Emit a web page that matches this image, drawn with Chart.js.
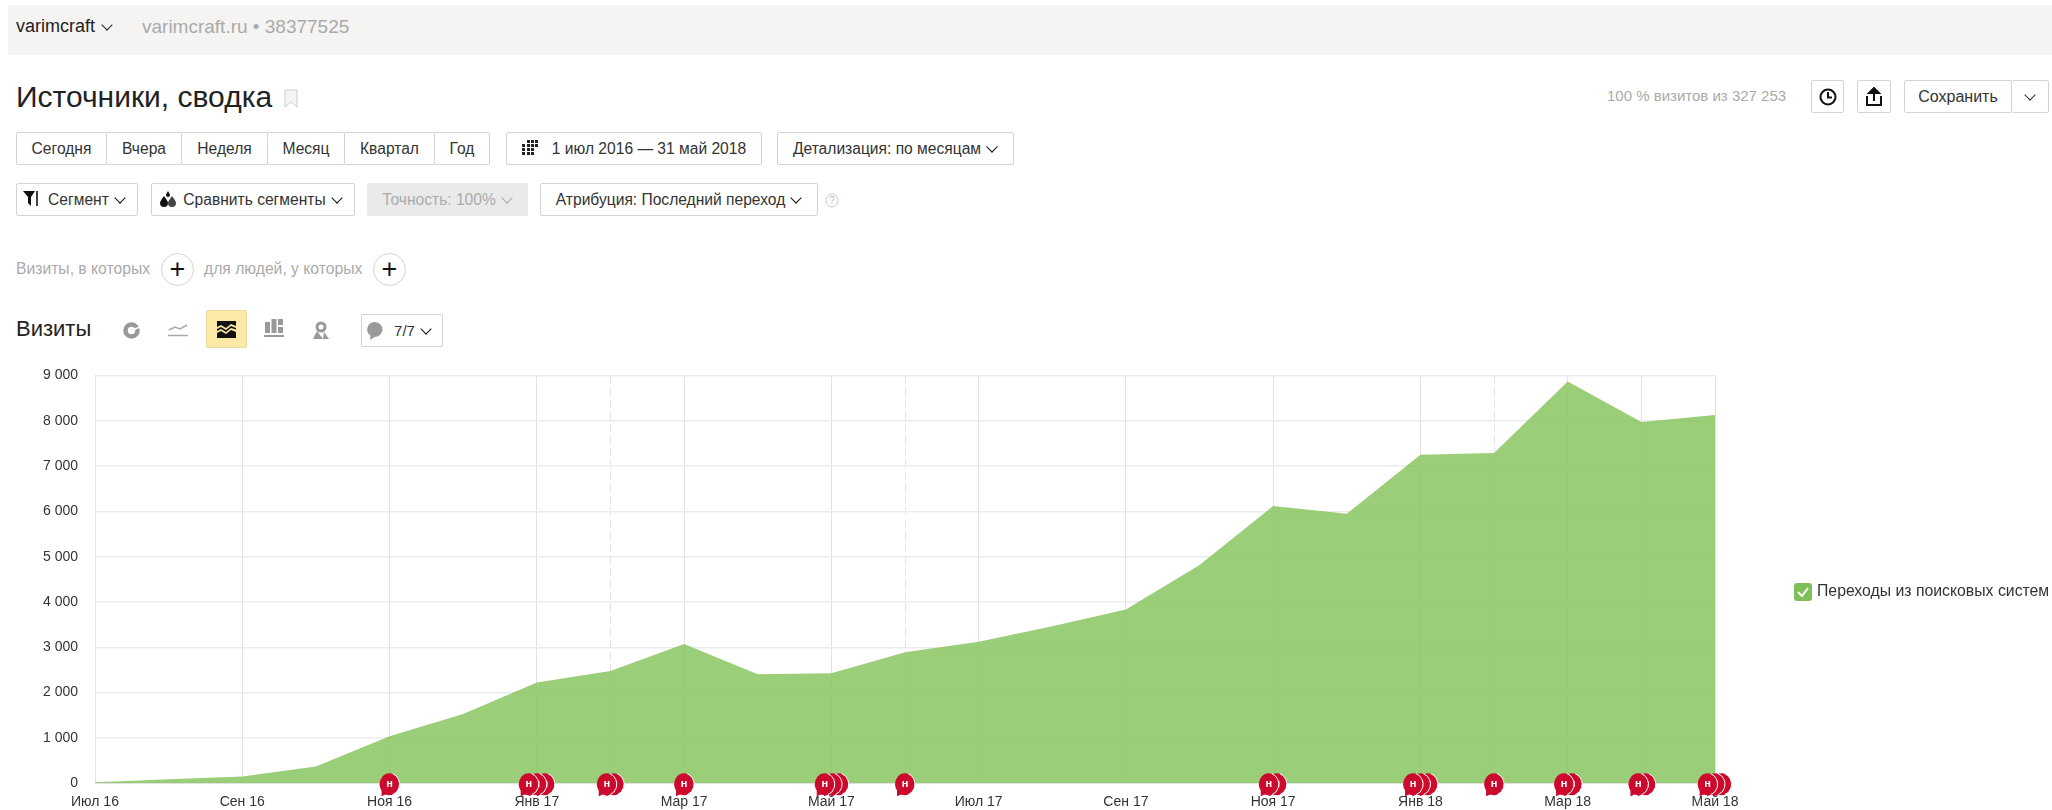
<!DOCTYPE html>
<html>
<head>
<meta charset="utf-8">
<script src="https://cdn.jsdelivr.net/npm/chart.js@4"></script>
<style>
html, body { margin: 0; padding: 0; background: #fff; }
body { width: 2052px; height: 810px; position: relative; overflow: hidden; font-family: Arial, "Liberation Sans", sans-serif; color: #222; }
.t { position: absolute; white-space: nowrap; line-height: 1; }
.b { position: absolute; box-sizing: border-box; border: 1px solid #d4d4d4; border-radius: 2px; background: #fff; font-size: 15.6px; color: #333; display: flex; align-items: center; justify-content: center; white-space: nowrap; }
.g { color: #aaa; }
.c { display: inline-block; width: 7px; height: 7px; margin: -4px 2px 0 7px; border-right: 1.5px solid currentColor; border-bottom: 1.5px solid currentColor; transform: rotate(45deg); }
svg { position: absolute; }
#wrap { position: absolute; left: 0; top: 350px; width: 2052px; height: 472px; }
</style>
</head>
<body>
<div style="position:absolute;left:8px;top:5px;width:2044px;height:50px;background:#f5f4f2"></div>
<div class="t" style="left:16px;top:17px;font-size:18px">varimcraft<span class="c" style="margin:-2px 0 2px 8px;vertical-align:middle"></span></div>
<div class="t g" style="left:142px;top:17px;font-size:19px">varimcraft.ru • 38377525</div>
<div class="t" style="left:16px;top:82px;font-size:30px">Источники, сводка</div>
<svg style="left:284px;top:89px" width="14" height="19"><path d="M1 1H13V18L7 13L1 18Z" fill="#f4f4f4" stroke="#ccc"/></svg>

<div class="b" style="left:16px;top:132px;width:91px;height:33px">Сегодня</div>
<div class="b" style="left:106px;top:132px;width:76px;height:33px">Вчера</div>
<div class="b" style="left:181px;top:132px;width:87px;height:33px">Неделя</div>
<div class="b" style="left:267px;top:132px;width:78px;height:33px">Месяц</div>
<div class="b" style="left:344px;top:132px;width:91px;height:33px">Квартал</div>
<div class="b" style="left:434px;top:132px;width:56px;height:33px">Год</div>
<div class="b" style="left:506px;top:132px;width:256px;height:33px;padding-left:30px">1 июл 2016 — 31 май 2018</div>
<svg style="left:521px;top:140px" width="18" height="15" fill="#222"><path d="M6 0h3v3H6zM10 0h3v3h-3zM14 0h3v3h-3zM1 4h3v3H1zM6 4h3v3H6zM10 4h3v3h-3zM14 4h3v3h-3zM1 8h3v3H1zM6 8h3v3H6zM10 8h3v3h-3zM1 12h3v3H1zM6 12h3v3H6zM10 12h3v3h-3z"/></svg>
<div class="b" style="left:777px;top:132px;width:237px;height:33px">Детализация: по месяцам<span class="c" style="color:#111"></span></div>

<div class="b" style="left:16px;top:183px;width:122px;height:33px;padding-left:20px">Сегмент<span class="c" style="color:#111"></span></div>
<svg style="left:23px;top:191px" width="17" height="15" fill="#111"><path d="M0 0H12L8 6V15L5 12V6Z"/><path d="M13 0h2v15h-2z" opacity=".8"/></svg>
<div class="b" style="left:151px;top:183px;width:204px;height:33px;padding-left:20px">Сравнить сегменты<span class="c" style="color:#111"></span></div>
<svg style="left:159px;top:191px" width="18" height="17" fill="#111"><path d="M5 5C7 8 9 10 9 12A4 4 0 0 1 1 12C1 10 3 8 5 5Z"/><path d="M13 5C15 8 17 10 17 12A4 4 0 0 1 9 12C9 10 11 8 13 5Z" fill="#444"/><path d="M9 0C10 2 11 3 11 4A2 2 0 0 1 7 4C7 3 8 2 9 0Z"/></svg>
<div class="b g" style="left:367px;top:183px;width:161px;height:33px;background:#eaeaea;border-color:#eaeaea">Точность: 100%<span class="c"></span></div>
<div class="b" style="left:540px;top:183px;width:278px;height:33px">Атрибуция: Последний переход<span class="c" style="color:#111"></span></div>
<svg style="left:825px;top:193px" width="14" height="15"><ellipse cx="7" cy="7.5" rx="6" ry="6.5" fill="none" stroke="#ccc"/><text x="7" y="11" font-size="10" text-anchor="middle" fill="#bbb" font-family="Arial">?</text></svg>

<div class="t g" style="left:16px;top:261px;font-size:15.7px">Визиты, в которых</div>
<div class="b" style="left:161px;top:253px;width:33px;height:33px;border-radius:50%;font-size:27px;color:#111">+</div>
<div class="t g" style="left:204px;top:261px;font-size:15.7px">для людей, у которых</div>
<div class="b" style="left:373px;top:253px;width:33px;height:33px;border-radius:50%;font-size:27px;color:#111">+</div>

<div class="t" style="left:16px;top:318px;font-size:22px">Визиты</div>
<svg style="left:123px;top:322px" width="17" height="17"><circle cx="8.5" cy="8.5" r="6" fill="none" stroke="#999" stroke-width="4.5"/><path d="M8.500 8.500L17 5" stroke="#fff" stroke-width="1.500"/></svg>
<svg style="left:168px;top:323px" width="20" height="14" fill="none" stroke="#aaa" stroke-width="1.5"><path d="M1 7L7 4L12 6L19 2"/><path d="M0 12.5H20"/></svg>
<div class="b" style="left:206px;top:310px;width:41px;height:38px;background:#fde9a6;border-color:#ead9a0"></div>
<svg style="left:217px;top:321px" width="19" height="17" fill="#111"><path d="M0 0H19V5L14 3L9 7L4 4L0 6Z"/><path d="M0 8L4 6L9 9L14 5L19 7V8.5L14 7L9 11L4 8L0 10Z"/><path d="M0 12L4 10L9 13L14 9L19 11V17H0Z"/></svg>
<svg style="left:264px;top:319px" width="20" height="19" fill="#999"><path d="M1 3h5v11H1zM7.500 0h5v14h-5zM14 0h5v6h-5zM14 8h5v6h-5zM0 16h20v2H0z"/></svg>
<svg style="left:312px;top:321px" width="17" height="19"><circle cx="9" cy="6" r="4" fill="none" stroke="#999" stroke-width="3"/><path d="M5 10L11 18H1ZM12 11L17 18H11Z" fill="#999"/></svg>
<div class="b" style="left:361px;top:314px;width:82px;height:33px;padding-left:22px;font-size:15px">7/7<span class="c" style="color:#111"></span></div>
<svg style="left:366px;top:322px" width="17" height="18"><path d="M8.500 0A8 7.500 0 0 1 8.500 15L4 18L4.500 13.500A8 7.500 0 0 1 8.500 0Z" fill="#999"/></svg>

<div class="t g" style="left:1607px;top:88px;font-size:15px">100 % визитов из 327 253</div>
<div class="b" style="left:1811px;top:80px;width:33px;height:33px"></div>
<svg style="left:1819px;top:88px" width="18" height="18" fill="none" stroke="#111" stroke-width="2"><circle cx="9" cy="9" r="7.500"/><path d="M9 4V9.500H13"/></svg>
<div class="b" style="left:1857px;top:80px;width:34px;height:33px"></div>
<svg style="left:1866px;top:87px" width="16" height="20" fill="none" stroke="#111" stroke-width="2"><path d="M1 9V18H15V9"/><path d="M8 14V2"/><path d="M3 6L8 1L13 6Z" fill="#111"/></svg>
<div class="b" style="left:1904px;top:80px;width:108px;height:33px;font-size:16px">Сохранить</div>
<div class="b" style="left:2011px;top:80px;width:38px;height:33px"><span class="c" style="margin:-4px 0 0 0"></span></div>

<div id="wrap"><canvas id="chart"></canvas></div>
<script>
// Визиты по месяцам
var months = ['Июл 16','Авг 16','Сен 16','Окт 16','Ноя 16','Дек 16','Янв 17','Фев 17','Мар 17','Апр 17','Май 17','Июн 17','Июл 17','Авг 17','Сен 17','Окт 17','Ноя 17','Дек 17','Янв 18','Фев 18','Мар 18','Апр 18','Май 18'];
var visits = [20,85,148,370,1036,1529,2220,2477,3072,2402,2424,2890,3123,3465,3833,4818,6120,5949,7250,7290,8866,7970,8127];
var seriesName = 'Переходы из поисковых систем';
var yTicks = [0,1000,2000,3000,4000,5000,6000,7000,8000,9000];

// примечания: положение на оси месяцев (дробное, внутри месяца)
var notePositions = [4.0, 5.89,6.0,6.11, 6.95,7.05, 8.0, 9.91,10.01,10.1, 11.0, 15.94,16.05, 17.9,18.0,18.1, 19.0, 19.95,20.06, 20.96,21.06, 21.9,22.0,22.09];
var dashedMonths = [7,11,19];
var extraLineMonths = [21];

function fmt(v) {
    return v === 0 ? '0' : Math.floor(v / 1000) + ' 000';
}

var notesPlugin = {
    id: 'notes',
    afterDatasetsDraw: function (chart) {
        var c = chart.ctx, x = chart.scales.x, y = chart.scales.y;
        c.save();
        // справа налево, чтобы левая метка была сверху
        for (var i = notePositions.length - 1; i >= 0; i--) {
            var cx = x.getPixelForValue(notePositions[i]);
            var cy = y.getPixelForValue(0) + 1;
            c.fillStyle = '#cc0a2d';
            c.beginPath();
            c.moveTo(cx - 8, cy + 3);
            c.lineTo(cx - 8, cy + 12);
            c.lineTo(cx + 1, cy + 8);
            c.closePath();
            c.fill();
            c.beginPath();
            c.ellipse(cx, cy, 10, 11, 0, 0, Math.PI * 2);
            c.fill();
            c.strokeStyle = '#fff';
            c.lineWidth = 1;
            c.beginPath();
            c.ellipse(cx, cy, 10, 11, 0, -Math.PI * 0.4, Math.PI * 0.4);
            c.stroke();
            c.fillStyle = '#fff';
            c.font = 'bold 11px Arial';
            c.textAlign = 'center';
            c.textBaseline = 'middle';
            c.fillText('н', cx, cy);
        }
        c.restore();
    }
};

var legendPlugin = {
    id: 'sideLegend',
    afterDraw: function (chart) {
        var c = chart.ctx;
        c.save();
        c.fillStyle = '#7fbf5a';
        c.beginPath();
        c.roundRect(1794, 233, 18, 18, 3);
        c.fill();
        c.strokeStyle = '#fff';
        c.lineWidth = 2;
        c.beginPath();
        c.moveTo(1798, 242);
        c.lineTo(1802, 246);
        c.lineTo(1808, 238);
        c.stroke();
        c.fillStyle = '#333';
        c.font = '15.8px Arial';
        c.textBaseline = 'middle';
        c.textAlign = 'left';
        c.fillText(seriesName, 1817, 242);
        c.restore();
    }
};

new Chart(document.getElementById('chart').getContext('2d'), {
    type: 'line',
    data: {
        labels: months,
        datasets: [{
            label: seriesName,
            data: visits,
            fill: true,
            backgroundColor: 'rgba(138, 197, 96, 0.85)',
            borderWidth: 0,
            pointRadius: 0,
            tension: 0
        }]
    },
    options: {
        responsive: true,
        maintainAspectRatio: false,
        animation: false,
        layout: { padding: { left: 0, right: 337, top: 22, bottom: 0 } },
        plugins: { legend: { display: false }, tooltip: { enabled: false } },
        scales: {
            x: {
                offset: false,
                grid: {
                    color: function (ctx) {
                        var i = ctx.index;
                        if (i % 2 === 0 || dashedMonths.indexOf(i) >= 0 || extraLineMonths.indexOf(i) >= 0) return '#e2e2e2';
                        return 'rgba(0,0,0,0)';
                    },
                    drawTicks: false
                },
                border: {
                    color: '#e4e4e4',
                    dash: function (ctx) { return dashedMonths.indexOf(ctx.index) >= 0 ? [8, 4] : []; }
                },
                ticks: {
                    autoSkip: false,
                    maxRotation: 0,
                    padding: 11,
                    color: '#333',
                    font: { family: 'Arial', size: 14 },
                    callback: function (v, i) { return i % 2 === 0 ? months[i] : ''; }
                }
            },
            y: {
                min: 0,
                max: 9000,
                afterBuildTicks: function (axis) {
                    axis.ticks = yTicks.map(function (v) { return { value: v }; });
                },
                afterFit: function (axis) { axis.width = 95; },
                grid: { color: '#ececec', lineWidth: 1.5, drawTicks: false },
                border: { color: '#e4e4e4' },
                ticks: {
                    padding: 17,
                    color: '#333',
                    font: { family: 'Arial', size: 14 },
                    callback: fmt
                }
            }
        }
    },
    plugins: [notesPlugin, legendPlugin]
});
</script>
</body>
</html>
